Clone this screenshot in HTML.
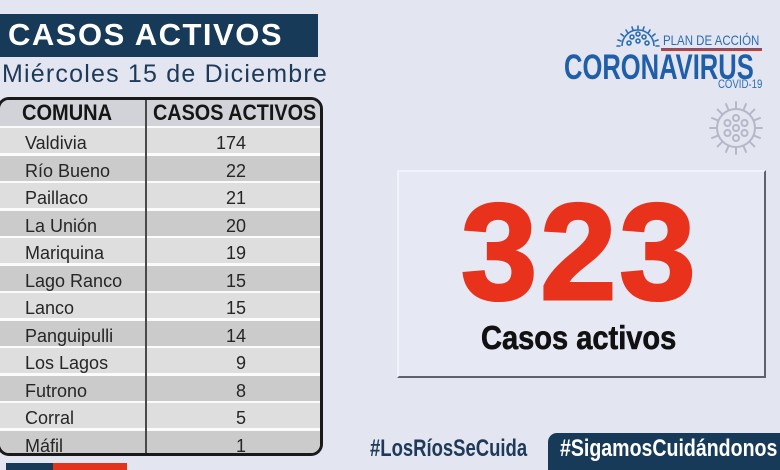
<!DOCTYPE html>
<html>
<head>
<meta charset="utf-8">
<style>
*{margin:0;padding:0;box-sizing:border-box}
html,body{width:780px;height:470px;overflow:hidden;background:#e3e5f1}
body{position:relative;font-family:"Liberation Sans",sans-serif}
.abs{position:absolute}
.titlebar{left:0;top:14px;width:318px;height:43px;background:#173a58}
.title{left:8px;top:14px;height:43px;line-height:41px;color:#fff;font-weight:bold;font-size:31px;letter-spacing:1.5px;white-space:nowrap}
.sub{left:2px;top:59px;line-height:30px;font-size:25px;letter-spacing:1.2px;color:#1d3a58;white-space:nowrap}
.table{left:-3px;top:97px;width:326px;height:359px;border:3px solid #1a1a1a;border-radius:12px;overflow:hidden;background:#fbfbfb}
.hdr{left:0;top:0;width:320px;height:26px;background:#d1d3d9}
.row{left:0;width:320px;height:25px}
.l{background:#dedede}
.d{background:#cbcbcb}
.div{left:145px;top:0;width:2px;height:360px;background:#4a4a4a}
.htxt{top:0;height:26px;line-height:26px;font-size:22px;font-weight:bold;color:#151515;white-space:nowrap;transform-origin:0 0;transform:scaleX(0.91)}
.c1{position:absolute;left:25px;top:3px;line-height:25px;font-size:18px;color:#262626;white-space:nowrap}
.c2{position:absolute;right:74px;top:3px;line-height:25px;font-size:18px;color:#262626;text-align:right}
.box{left:397px;top:170px;width:369px;height:208px;background:#e6e8f4;border-top:2px solid #f2f3fa;border-left:2px solid #f2f3fa;border-right:2px solid #5e626c;border-bottom:2px solid #5e626c}
.big{left:461px;top:184px;font-size:137px;line-height:137px;font-weight:bold;color:#e8321b;letter-spacing:3px;white-space:nowrap;-webkit-text-stroke:3px #e8321b}
.cas{left:481px;top:320px;font-size:33px;line-height:36px;font-weight:bold;color:#111;white-space:nowrap;transform-origin:0 0;transform:scaleX(0.88);-webkit-text-stroke:0.6px #111}
.tab{left:548px;top:433px;width:240px;height:40px;background:#173a58;border-top-left-radius:9px}
.h1{left:370px;top:436px;font-size:24px;line-height:26px;font-weight:bold;color:#1d3a58;white-space:nowrap;transform-origin:0 0;transform:scaleX(0.77)}
.h2{left:560px;top:436px;font-size:24px;line-height:26px;font-weight:bold;color:#fff;white-space:nowrap;transform-origin:0 0;transform:scaleX(0.815)}
.plan{left:663px;top:32px;font-size:14px;line-height:16px;color:#2a6db5;white-space:nowrap;transform-origin:0 0;transform:scaleX(0.82)}
.corona{left:564px;top:50px;font-size:35px;line-height:36px;font-weight:bold;color:#1f5ea8;white-space:nowrap;transform-origin:0 0;transform:scaleX(0.73)}
.covid{left:718px;top:78px;font-size:12px;line-height:13px;color:#2a6db5;white-space:nowrap;transform-origin:0 0;transform:scaleX(0.8)}
</style>
</head>
<body>
<div class="abs titlebar"></div>
<div class="abs title">CASOS ACTIVOS</div>
<div class="abs sub">Miércoles 15 de Diciembre</div>

<div class="abs table">
  <div class="abs hdr"></div>
  <div class="abs htxt" style="left:22px">COMUNA</div>
  <div class="abs htxt" style="left:153px;transform:scaleX(0.9)">CASOS ACTIVOS</div>
  <div class="abs row l" style="top:28px"><span class="c1">Valdivia</span><span class="c2">174</span></div>
  <div class="abs row d" style="top:55.5px"><span class="c1">Río Bueno</span><span class="c2">22</span></div>
  <div class="abs row l" style="top:83px"><span class="c1">Paillaco</span><span class="c2">21</span></div>
  <div class="abs row d" style="top:110.5px"><span class="c1">La Unión</span><span class="c2">20</span></div>
  <div class="abs row l" style="top:138px"><span class="c1">Mariquina</span><span class="c2">19</span></div>
  <div class="abs row d" style="top:165.5px"><span class="c1">Lago Ranco</span><span class="c2">15</span></div>
  <div class="abs row l" style="top:193px"><span class="c1">Lanco</span><span class="c2">15</span></div>
  <div class="abs row d" style="top:220.5px"><span class="c1">Panguipulli</span><span class="c2">14</span></div>
  <div class="abs row l" style="top:248px"><span class="c1">Los Lagos</span><span class="c2">9</span></div>
  <div class="abs row d" style="top:275.5px"><span class="c1">Futrono</span><span class="c2">8</span></div>
  <div class="abs row l" style="top:303px"><span class="c1">Corral</span><span class="c2">5</span></div>
  <div class="abs row d" style="top:330.5px"><span class="c1">Máfil</span><span class="c2">1</span></div>
  <div class="abs div"></div>
</div>

<div class="abs" style="left:6px;top:463px;width:47px;height:7px;background:#173a58"></div>
<div class="abs" style="left:53px;top:463px;width:74px;height:7px;background:#e4321b"></div>

<div class="abs box"></div>
<div class="abs big">323</div>
<div class="abs cas">Casos activos</div>

<div class="abs h1">#LosRíosSeCuida</div>
<div class="abs tab"></div>
<div class="abs h2">#SigamosCuidándonos</div>

<!-- logo -->
<svg class="abs" style="left:612px;top:22px" width="52" height="28" viewBox="0 0 52 28">
  <g fill="none" stroke="#2a6db5" stroke-width="1.6">
    <path d="M10 24 A16 16 0 0 1 42 24"/>
    <g stroke-linecap="round">
      <line x1="5" y1="24" x2="8" y2="24"/>
      <line x1="6" y1="18" x2="9" y2="19"/>
      <line x1="9" y1="12" x2="11.5" y2="14"/>
      <line x1="14" y1="8" x2="15.5" y2="10.5"/>
      <line x1="20" y1="5" x2="21" y2="8"/>
      <line x1="26" y1="4" x2="26" y2="7"/>
      <line x1="32" y1="5" x2="31" y2="8"/>
      <line x1="38" y1="8" x2="36.5" y2="10.5"/>
      <line x1="43" y1="12" x2="40.5" y2="14"/>
      <line x1="46" y1="18" x2="43" y2="19"/>
      <line x1="47" y1="24" x2="44" y2="24"/>
    </g>
    <circle cx="20" cy="15" r="2"/><circle cx="26" cy="12" r="2"/><circle cx="32" cy="15" r="2"/>
    <circle cx="17" cy="21" r="2"/><circle cx="26" cy="19" r="2"/><circle cx="35" cy="21" r="2"/>
  </g>
</svg>
<div class="abs plan">PLAN DE ACCIÓN</div>
<div class="abs" style="left:661px;top:48px;width:101px;height:1px;background:#2a6db5"></div>
<div class="abs" style="left:661px;top:49px;width:101px;height:1.5px;background:#e4321b"></div>
<div class="abs corona">CORONAVIRUS</div>
<div class="abs covid">COVID-19</div>

<svg class="abs" style="left:705px;top:97px" width="62" height="62" viewBox="0 0 62 62">
  <g fill="none" stroke="#b4b8c8" stroke-width="2">
    <circle cx="31" cy="31" r="19"/>
    <g stroke-linecap="round">
      <line x1="31" y1="12" x2="31" y2="5"/>
      <line x1="31" y1="50" x2="31" y2="57"/>
      <line x1="12" y1="31" x2="5" y2="31"/>
      <line x1="50" y1="31" x2="57" y2="31"/>
      <line x1="44.4" y1="17.6" x2="49.4" y2="12.6"/>
      <line x1="17.6" y1="44.4" x2="12.6" y2="49.4"/>
      <line x1="17.6" y1="17.6" x2="12.6" y2="12.6"/>
      <line x1="44.4" y1="44.4" x2="49.4" y2="49.4"/>
      <line x1="38.3" y1="13.4" x2="41" y2="7"/>
      <line x1="23.7" y1="13.4" x2="21" y2="7"/>
      <line x1="38.3" y1="48.6" x2="41" y2="55"/>
      <line x1="23.7" y1="48.6" x2="21" y2="55"/>
      <line x1="13.4" y1="23.7" x2="7" y2="21"/>
      <line x1="13.4" y1="38.3" x2="7" y2="41"/>
      <line x1="48.6" y1="23.7" x2="55" y2="21"/>
      <line x1="48.6" y1="38.3" x2="55" y2="41"/>
    </g>
    <circle cx="31" cy="31" r="3"/>
    <circle cx="31" cy="21" r="3"/><circle cx="31" cy="41" r="3"/>
    <circle cx="22.5" cy="26" r="3"/><circle cx="39.5" cy="26" r="3"/>
    <circle cx="22.5" cy="36" r="3"/><circle cx="39.5" cy="36" r="3"/>
  </g>
</svg>
</body>
</html>
